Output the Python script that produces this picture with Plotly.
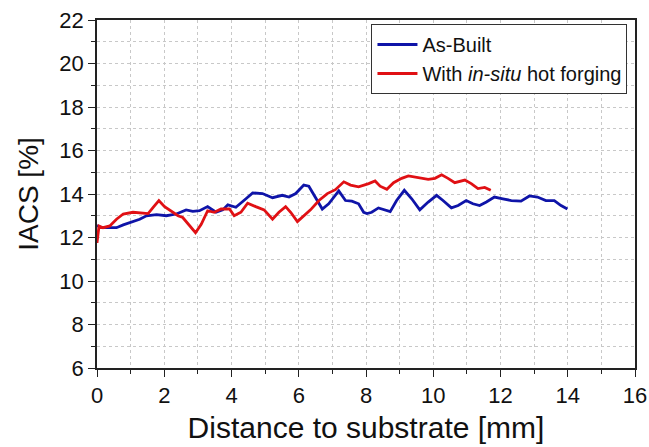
import plotly.graph_objects as go

# As-Built series
asbuilt_x = [0.0, 0.1, 0.3, 0.58, 0.78, 1.07, 1.27, 1.47, 1.77, 2.06, 2.36, 2.65, 2.85, 3.05, 3.29, 3.54,
             3.74, 3.89, 4.13, 4.43, 4.63, 4.92, 5.22, 5.51, 5.71, 5.91, 6.15, 6.30, 6.50, 6.70, 6.89,
             7.19, 7.39, 7.58, 7.78, 7.93, 8.03, 8.17, 8.37, 8.57, 8.72, 8.91, 9.14, 9.36, 9.60, 9.85,
             10.10, 10.29, 10.54, 10.74, 10.98, 11.18, 11.38, 11.58, 11.82, 12.07, 12.32, 12.61, 12.86,
             13.10, 13.35, 13.60, 13.80, 13.99]
asbuilt_y = [12.55, 12.47, 12.45, 12.45, 12.58, 12.73, 12.84, 13.00, 13.05, 13.00, 13.08, 13.27, 13.20,
             13.23, 13.42, 13.16, 13.27, 13.50, 13.39, 13.78, 14.05, 14.02, 13.83, 13.94, 13.86, 14.02,
             14.41, 14.36, 13.86, 13.31, 13.55, 14.14, 13.70, 13.67, 13.55, 13.16, 13.10, 13.16, 13.36,
             13.27, 13.19, 13.70, 14.17, 13.78, 13.27, 13.63, 13.94, 13.70, 13.36, 13.47, 13.70, 13.55,
             13.47, 13.63, 13.86, 13.78, 13.70, 13.67, 13.91, 13.86, 13.70, 13.70, 13.47, 13.31]

# With in-situ hot forging series
forged_x = [0.0, 0.06, 0.18, 0.38, 0.58, 0.78, 1.07, 1.37, 1.52, 1.67, 1.84, 2.01, 2.21, 2.41, 2.55,
            2.75, 2.93, 3.10, 3.29, 3.49, 3.69, 3.94, 4.08, 4.28, 4.48, 4.72, 4.97, 5.22, 5.41, 5.61,
            5.76, 5.96, 6.15, 6.35, 6.60, 6.85, 7.09, 7.34, 7.54, 7.78, 8.08, 8.27, 8.42, 8.62, 8.82,
            9.06, 9.26, 9.51, 9.85, 10.05, 10.25, 10.44, 10.64, 10.94, 11.13, 11.33, 11.53, 11.71]
forged_y = [11.75, 12.53, 12.45, 12.53, 12.84, 13.08, 13.16, 13.14, 13.10, 13.39, 13.70, 13.42, 13.23,
            13.00, 12.92, 12.53, 12.22, 12.61, 13.23, 13.16, 13.31, 13.31, 13.00, 13.16, 13.58, 13.42,
            13.27, 12.84, 13.16, 13.42, 13.16, 12.73, 13.00, 13.27, 13.70, 14.02, 14.20, 14.56, 14.41,
            14.33, 14.48, 14.60, 14.36, 14.22, 14.52, 14.72, 14.83, 14.77, 14.67, 14.72, 14.88, 14.72,
            14.52, 14.64, 14.48, 14.25, 14.30, 14.17]

x_ticks = [0, 2, 4, 6, 8, 10, 12, 14, 16]
y_ticks = [6, 8, 10, 12, 14, 16, 18, 20, 22]

FONT = "Liberation Sans, Arial, sans-serif"

fig = go.Figure()
fig.add_trace(go.Scatter(x=asbuilt_x, y=asbuilt_y, mode="lines", name="As-Built",
                         line=dict(color="#0f14a8", width=2.8)))
fig.add_trace(go.Scatter(x=forged_x, y=forged_y, mode="lines",
                         name="With <i>in-situ</i> hot forging",
                         line=dict(color="#e01014", width=2.8)))

axis_common = dict(
    showline=True, linecolor="#222222", linewidth=1.5, mirror=True,
    ticks="outside", ticklen=7, tickwidth=1.3, tickcolor="#222222",
    showgrid=False, zeroline=False, automargin=False, ticklabeloverflow="allow",
    tickfont=dict(family=FONT, size=22, color="#111111"),
    minor=dict(ticks="outside", ticklen=4, tickwidth=1.1, tickcolor="#222222", dtick=1,
               showgrid=True, gridcolor="#c8c8c8", griddash="dot", gridwidth=1),
)

fig.update_xaxes(range=[0, 16], tickvals=x_ticks,
                 title=dict(text="Distance to substrate [mm]",
                            font=dict(family=FONT, size=30, color="#111111"), standoff=10),
                 **axis_common)
fig.update_yaxes(range=[6, 22], tickvals=y_ticks,
                 title=dict(text="IACS [%]", font=dict(family=FONT, size=28, color="#111111"),
                            standoff=13),
                 **axis_common)

fig.update_layout(
    width=649, height=447,
    margin=dict(l=97, r=13.5, t=20, b=79, autoexpand=False),
    paper_bgcolor="white", plot_bgcolor="white",
    showlegend=True,
    legend=dict(x=0.986, y=0.9885, xanchor="right", yanchor="top",
                bgcolor="white", bordercolor="#333333", borderwidth=1,
                font=dict(family=FONT, size=20, color="#111111"),
                tracegroupgap=0, itemwidth=40),
)

# remove the default page margin so the figure fills the window exactly
fig.write_html("out.html", config={"displayModeBar": False},
               post_script="document.body.style.margin='0';document.body.style.overflow='hidden';")
